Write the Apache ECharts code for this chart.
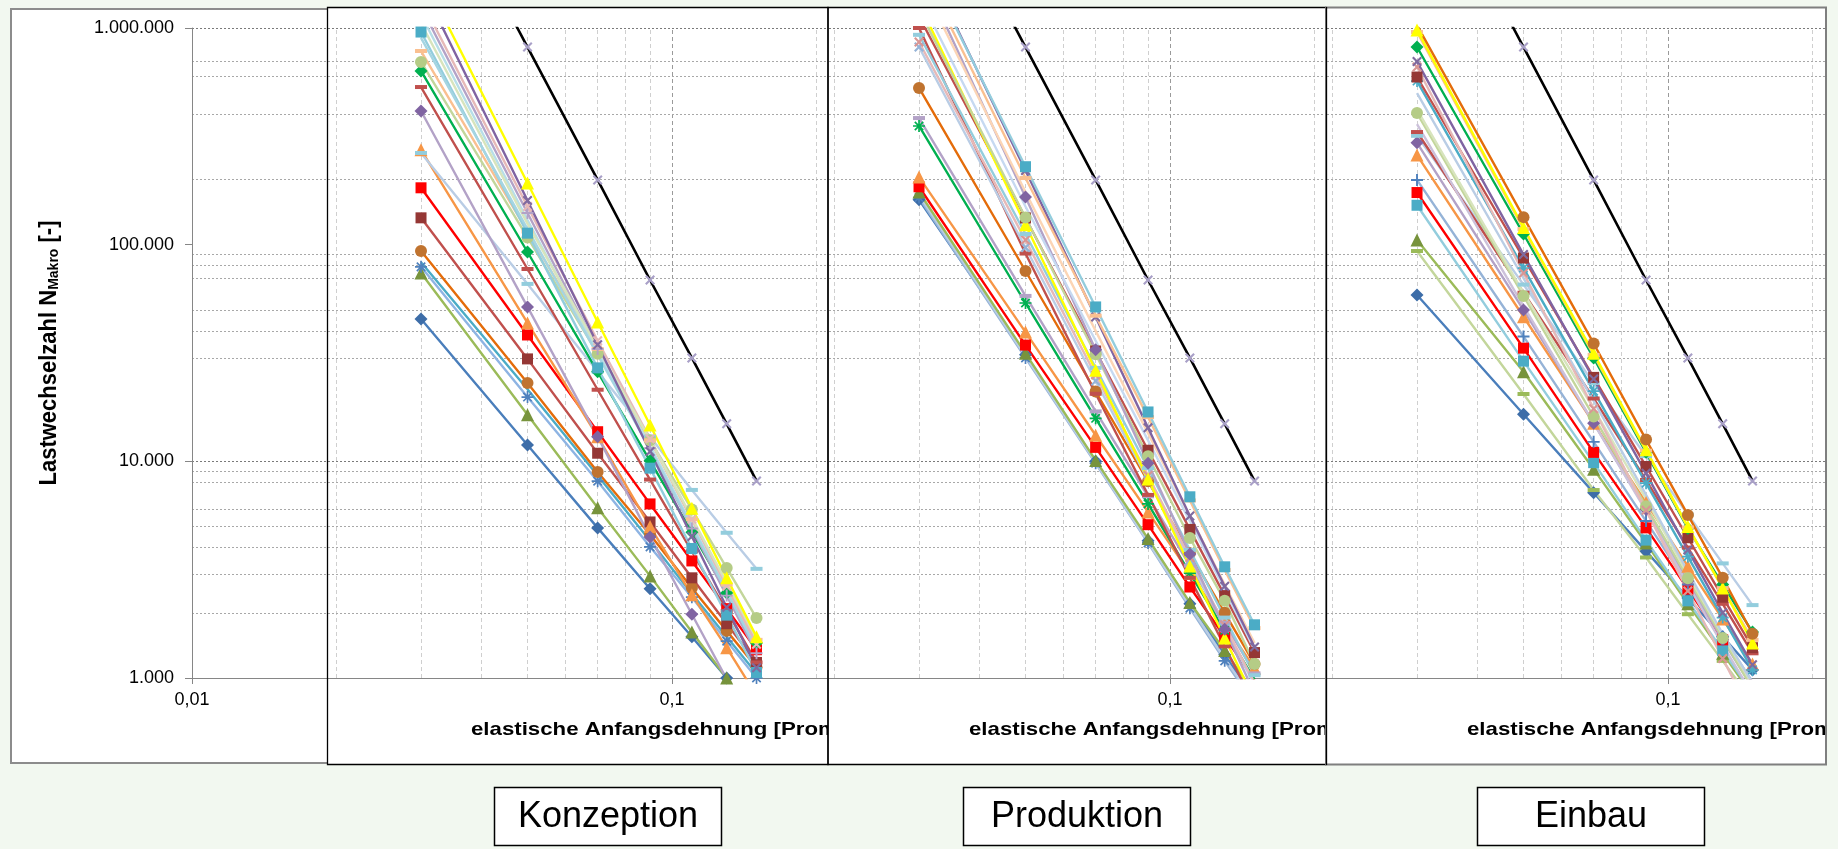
<!DOCTYPE html>
<html><head><meta charset="utf-8">
<script src="https://cdn.jsdelivr.net/npm/echarts@6/dist/echarts.min.js"></script>
<style>html,body{margin:0;padding:0;background:#F2F8F0;}#c{width:1838px;height:849px;}</style>
</head><body><div id="c"></div><script>
// ---------------- DATA ----------------
const strain = [0.03, 0.05, 0.07, 0.09, 0.11, 0.13, 0.15];
const referenceLine = [6900000, 817000, 199000, 68700, 30000, 14900, 8120];

const konzeption = [
  [45400, 11900, 4930, 2580, 1550, 1000, 690],
  [74000, 16400, 6100, 2960, 1630, 1000, 680],
  [79000, 19800, 8100, 4030, 2360, 1480, 1000],
  [83000, 21500, 8600, 4300, 2450, 1550, 1050],
  [93500, 23000, 8930, 4600, 2600, 1650, 1120],
  [133000, 29700, 10900, 5250, 2900, 1780, 1180],
  [183000, 38300, 13700, 6360, 3470, 2090, 1350],
  [274000, 43500, 13000, 5000, 2420, 1380, 830],
  [265000, 65900, 26000, 13000, 7380, 4680, 3190],
  [414000, 51600, 13000, 4480, 1970, 990, 550],
  [534000, 77200, 21400, 8240, 3840, 2040, 1180],
  [634000, 92500, 25900, 10050, 4710, 2470, 1450],
  [697000, 108000, 31400, 12500, 6000, 3220, 1890],
  [783000, 115000, 33000, 12500, 5400, 2700, 1500],
  [958000, 113000, 27000, 9300, 3960, 1950, 1060],
  [1250000, 140000, 33000, 11500, 4900, 2400, 1300],
  [1150000, 130000, 32000, 11800, 5100, 2550, 1400],
  [1350000, 150000, 36000, 12700, 5400, 2650, 1430],
  [1050000, 125000, 33500, 12600, 5500, 2750, 1520],
  [900000, 118000, 31000, 11400, 5000, 2500, 1350],
  [1600000, 160000, 34500, 11100, 4500, 2120, 1115],
  [1800000, 192700, 44000, 14700, 6070, 2900, 1550]
];
const produktion = [
  [161000, 31000, 10000, 4300, 2200, 1280, 800],
  [165000, 30000, 9800, 4200, 2100, 1200, 760],
  [170000, 30500, 9900, 4250, 2150, 1230, 780],
  [175000, 31500, 10100, 4400, 2230, 1340, 850],
  [185000, 34400, 11600, 5100, 2630, 1550, 980],
  [205000, 39500, 13200, 5840, 3040, 1770, 1110],
  [353000, 53800, 15800, 6360, 3050, 1660, 985],
  [384000, 58000, 17000, 6900, 3300, 1800, 1050],
  [529000, 75600, 21000, 8090, 3770, 2000, 1160],
  [1000000, 91000, 20500, 7000, 2900, 1400, 750],
  [817000, 97000, 23500, 8200, 3500, 1700, 930],
  [862000, 105000, 25000, 8600, 3600, 1750, 950],
  [930000, 112000, 27000, 9300, 3900, 1900, 1030],
  [1130000, 132800, 32300, 11250, 4850, 2400, 1310],
  [1300000, 123600, 26300, 8290, 3290, 1530, 790],
  [1210000, 133500, 31200, 10550, 4430, 2270, 1160],
  [1900000, 166000, 32700, 9800, 3740, 1680, 850],
  [1400000, 150000, 36000, 12500, 5300, 2550, 1350],
  [1700000, 175000, 40000, 13500, 5600, 2700, 1450],
  [2300000, 220000, 46400, 14300, 5600, 2650, 1390],
  [2000000, 203000, 47000, 16000, 6600, 3150, 1700],
  [2200000, 229000, 51600, 16900, 6860, 3260, 1760]
];
const einbau = [
  [58600, 16500, 7170, 3850, 2340, 1550, 1090],
  [93500, 20450, 7370, 3600, 1970, 1200, 780],
  [105000, 25900, 9200, 4200, 2200, 1300, 830],
  [152000, 29000, 9860, 4330, 2270, 1340, 850],
  [174000, 33300, 11000, 4930, 2570, 1500, 950],
  [199000, 37700, 12300, 5300, 2700, 1550, 960],
  [259000, 46500, 15000, 6450, 3280, 1870, 1160],
  [295000, 50000, 15000, 6000, 2800, 1500, 900],
  [318000, 65400, 23000, 10570, 5680, 3380, 2170],
  [331000, 60000, 19500, 8200, 4000, 2200, 1300],
  [405000, 58000, 16100, 6200, 2890, 1530, 890],
  [360000, 52000, 15000, 5900, 2700, 1420, 840],
  [420000, 60000, 17500, 6700, 3000, 1580, 930],
  [500000, 70000, 19000, 7000, 3100, 1600, 950],
  [569000, 78000, 21100, 7930, 3630, 1900, 1090],
  [594000, 86800, 24400, 9470, 4440, 2360, 1380],
  [661000, 74000, 17500, 5950, 2520, 1230, 665],
  [700000, 90000, 24000, 8800, 3900, 2000, 1150],
  [817000, 112000, 30000, 11000, 4900, 2700, 1630],
  [958000, 118000, 31000, 11200, 4950, 2600, 1500],
  [980000, 120000, 31500, 11300, 5000, 2600, 1450],
  [1030000, 134000, 35000, 12600, 5660, 2900, 1600]
];
const panelNames = ['Konzeption', 'Produktion', 'Einbau'];
const yTitleMain = 'Lastwechselzahl N';
const yTitleSub = 'Makro';
const yTitleEnd = ' [-]';
const xTitle = 'elastische Anfangsdehnung [Promille]';
const baseXTicks = [0.01];
const panelXTicks = [0.1];
const hGridMajor = [1000000, 10000];
const hGridMinor = [700000, 600000, 400000, 200000, 90000, 80000, 70000, 50000, 40000, 30000, 9000, 8000, 6000, 5000, 4000, 3000, 2000];
const vGridMinor = [0.02, 0.03, 0.04, 0.05, 0.06, 0.07, 0.08, 0.09, 0.2];
const vGridMajor = [0.1];

// ---------------- STYLES ----------------
const konzeptionStyle = [
  ['#4A7EBB','#3D6DA8','diamond'],['#9BBB59','#77933C','triangle'],['#8EB4E3','#4F81BD','star'],
  ['#4BACC6','#4BACC6','none'],['#E46C0A','#C0732F','circle'],['#C0504D','#953735','rect'],
  ['#FF0000','#FF0000','rect'],['#F79646','#F79646','triangle'],['#B9CDE5','#93CDDD','dash'],
  ['#B3A2C7','#8064A2','diamond'],['#C0504D','#C0504D','dash'],['#00B050','#00B050','diamond'],
  ['#C3D69B','#B5CC86','circle'],['#FAC090','#FAC090','dash'],['#93CDDD','#4BACC6','rect'],
  ['#B3A2C7','#B3A2C7','plus'],['#B7DEE8','#B7DEE8','none'],['#E6B9B8','#E6B9B8','x'],
  ['#D7E4BD','#C3D69B','none'],['#A5D5E2','#93CDDD','none'],['#8064A2','#7F6A9F','x'],
  ['#FFFF00','#FFFF00','triangle']
];
const produktionStyle = [
  ['#4A7EBB','#3D6DA8','diamond'],['#95B3D7','#4F81BD','star'],['#B9CDE5','#B9CDE5','none'],
  ['#9BBB59','#77933C','triangle'],['#FF0000','#FF0000','rect'],['#F79646','#F79646','triangle'],
  ['#00B050','#00B050','star'],['#B3A2C7','#B3A2C7','dash'],['#E46C0A','#C0732F','circle'],
  ['#C0504D','#C0504D','dash'],['#B9CDE5','#95B3D7','x'],['#E6B9B8','#D99694','x'],
  ['#93CDDD','#93CDDD','dash'],['#C0504D','#953735','rect'],['#FFFF00','#FFFF00','triangle'],
  ['#C3D69B','#B5CC86','circle'],['#B3A2C7','#8064A2','diamond'],['#C6D9F1','#B9CDE5','none'],
  ['#FCD5B5','#FCD5B5','none'],['#8064A2','#7F6A9F','x'],['#FAC090','#FAC090','dash'],
  ['#93CDDD','#4BACC6','rect']
];
const einbauStyle = [
  ['#4A7EBB','#3D6DA8','diamond'],['#C3D69B','#9BBB59','dash'],['#9BBB59','#77933C','triangle'],
  ['#93CDDD','#4BACC6','rect'],['#FF0000','#FF0000','rect'],['#95B3D7','#4F81BD','plus'],
  ['#F79646','#F79646','triangle'],['#B3A2C7','#8064A2','diamond'],['#B9CDE5','#93CDDD','dash'],
  ['#C0504D','#C0504D','dash'],['#C3D69B','#B5CC86','circle'],['#CCC1DA','#B3A2C7','none'],
  ['#D7E4BD','#D7E4BD','none'],['#B9CDE5','#95B3D7','none'],['#4BACC6','#4BACC6','star'],
  ['#C0504D','#953735','rect'],['#E6B9B8','#D99694','x'],['#8064A2','#7F6A9F','x'],
  ['#00B050','#00B050','diamond'],['#FAC090','#FAC090','dash'],['#FFFF00','#FFFF00','triangle'],
  ['#E46C0A','#C0732F','circle']
];
const referenceStyle = ['#000000', '#A9A0C8', 'x'];

const SYM = {
  diamond: 'diamond', rect: 'rect', triangle: 'triangle', circle: 'circle', none: 'none',
  x: 'path://M1.5,0L5,3.5L8.5,0L10,1.5L6.5,5L10,8.5L8.5,10L5,6.5L1.5,10L0,8.5L3.5,5L0,1.5Z',
  plus: 'path://M4.2,0H5.8V4.2H10V5.8H5.8V10H4.2V5.8H0V4.2H4.2Z',
  star: 'path://M4.3,0H5.7V3.3L8,1L9,2L6.7,4.3H10V5.7H6.7L9,8L8,9L5.7,6.7V10H4.3V6.7L2,9L1,8L3.3,5.7H0V4.3H3.3L1,2L2,1L4.3,3.3Z',
  dash: 'path://M0,0H10V3H0Z'
};
const SYMSIZE = {diamond: 13, rect: 11, triangle: 13, circle: 12, x: 10, plus: 12, star: 12, dash: [12, 4], none: 1};

// ---------------- LAYOUT ----------------
const BG = '#F2F8F0';
const FONT = '"Liberation Sans", Arial, Helvetica, sans-serif';
const DEC = 480, X0 = 192, TOP = 28, H = 650;
const offsets = [0, 498, 996];
const edges = [[327, 828], [828, 1326], [1326, 1826]];
const boxLefts = [494, 963, 1477];

function fmtThousands(v) { return String(Math.round(v)).replace(/\B(?=(\d{3})+(?!\d))/g, '.'); }
function fmtDec(v) { return String(+(+v).toPrecision(6)).replace('.', ','); }

const grids = [{left: X0, top: TOP, width: 2 * DEC, height: H}];
const xAxes = [{
  gridIndex: 0, type: 'log', logBase: 10, min: 0.01, max: 1, z: 1,
  axisLine: {show: true, onZero: false, lineStyle: {color: '#868686', width: 1}},
  axisTick: {show: true, customValues: baseXTicks, length: 6, lineStyle: {color: '#868686'}},
  axisLabel: {customValues: baseXTicks, formatter: fmtDec, fontSize: 18, color: '#000', margin: 13, fontFamily: FONT},
  splitLine: {show: false}
}];
const yAxes = [{
  gridIndex: 0, type: 'log', logBase: 10, min: 1000, max: 1000000, z: 1,
  axisLine: {show: true, lineStyle: {color: '#868686', width: 1}},
  axisTick: {show: true, length: 7, lineStyle: {color: '#868686'}},
  axisLabel: {formatter: fmtThousands, fontSize: 18, color: '#000', margin: 18, fontFamily: FONT},
  splitLine: {show: false}
}];

function gridLineSeries(gi, z, withV) {
  const d = [];
  if (withV) {
    vGridMinor.forEach(v => d.push({xAxis: v, lineStyle: {color: '#CFCFCF', type: [4, 3], width: 1}}));
    vGridMajor.forEach(v => d.push({xAxis: v, lineStyle: {color: '#9A9A9A', type: [4, 3], width: 1}}));
  }
  hGridMinor.forEach(v => d.push({yAxis: v, lineStyle: {color: '#A8A8A8', type: [2, 2], width: 1}}));
  hGridMajor.forEach(v => d.push({yAxis: v, lineStyle: {color: '#7A7A7A', type: [2, 2], width: 1}}));
  return {
    type: 'line', xAxisIndex: gi, yAxisIndex: gi, data: [], z: z, silent: true, animation: false,
    markLine: {z: z, silent: true, animation: false, symbol: ['none', 'none'], label: {show: false},
      emphasis: {disabled: true}, data: d}
  };
}

const series = [gridLineSeries(0, 1, false)];
const panelData = [konzeption, produktion, einbau];
const panelStyle = [konzeptionStyle, produktionStyle, einbauStyle];

const graphic = [
  {type: 'rect', shape: {x: 11, y: 9, width: 1815, height: 754}, style: {fill: '#FFFFFF', stroke: '#8C8C8C', lineWidth: 2}, z: 0, silent: true},
  {type: 'text', x: 49, y: 353, rotation: Math.PI / 2, scaleY: 1.1, z: 1, silent: true,
    style: {text: '{m|' + yTitleMain + '}{s|' + yTitleSub + '}{m|' + yTitleEnd + '}', align: 'center', verticalAlign: 'middle',
      rich: {m: {fontSize: 22, fontWeight: 'bold', fontFamily: FONT, fill: '#000'},
             s: {fontSize: 14, fontWeight: 'bold', fontFamily: FONT, fill: '#000', padding: [8, 0, 0, 0]}}}}
];

for (let k = 0; k < 3; k++) {
  const gi = k + 1, zb = 10 + 10 * k;
  const gl = edges[k][0] + 1, gr = edges[k][1] - 1;
  grids.push({left: gl, top: TOP, width: gr - gl, height: H});
  xAxes.push({
    gridIndex: gi, type: 'log', logBase: 10, z: zb + 2,
    min: Math.pow(10, (gl - X0 - offsets[k]) / DEC - 2),
    max: Math.pow(10, (gr - X0 - offsets[k]) / DEC - 2),
    axisLine: {show: true, onZero: false, lineStyle: {color: '#868686', width: 1}},
    axisTick: {show: true, customValues: panelXTicks, length: 6, lineStyle: {color: '#868686'}},
    axisLabel: {customValues: panelXTicks, formatter: fmtDec, fontSize: 18, color: '#000', margin: 13, fontFamily: FONT},
    splitLine: {show: false}
  });
  yAxes.push({
    gridIndex: gi, type: 'log', logBase: 10, min: 1000, max: 1000000, z: zb + 2,
    axisLine: {show: false}, axisTick: {show: false}, axisLabel: {show: false}, splitLine: {show: false}
  });
  graphic.push({type: 'rect', shape: {x: edges[k][0], y: 7, width: edges[k][1] - edges[k][0], height: 758},
    style: {fill: '#FFFFFF'}, z: zb, silent: true});
  graphic.push({type: 'text', x: 471 + offsets[k], y: 730, scaleX: 1.17, z: zb + 2, silent: true,
    style: {text: xTitle, fontSize: 19, fontWeight: 'bold', fontFamily: FONT, fill: '#000', align: 'left', verticalAlign: 'middle'}});
  series.push(gridLineSeries(gi, zb + 1, true));
  const vals = panelData[k], sty = panelStyle[k];
  vals.forEach((arr, j) => {
    const s = sty[j];
    series.push({
      type: 'line', xAxisIndex: gi, yAxisIndex: gi, z: zb + 3, clip: true, animation: false, silent: true,
      data: strain.map((e, i) => [e, arr[i]]),
      symbol: SYM[s[2]], symbolSize: SYMSIZE[s[2]], showSymbol: s[2] !== 'none',
      lineStyle: {color: s[0], width: 2.4}, itemStyle: {color: s[1]}, emphasis: {disabled: true}
    });
  });
  series.push({
    type: 'line', xAxisIndex: gi, yAxisIndex: gi, z: zb + 3, clip: true, animation: false, silent: true,
    data: strain.map((e, i) => [e, referenceLine[i]]),
    symbol: SYM[referenceStyle[2]], symbolSize: 10,
    lineStyle: {color: referenceStyle[0], width: 2.6}, itemStyle: {color: referenceStyle[1]}, emphasis: {disabled: true}
  });
}

graphic.push({type: 'rect', shape: {x: 1827, y: 0, width: 20, height: 849}, style: {fill: BG}, z: 50, silent: true});
graphic.push({type: 'rect', shape: {x: 327.5, y: 7.5, width: 500.5, height: 757}, style: {fill: 'none', stroke: '#000', lineWidth: 1.3}, z: 55, silent: true});
graphic.push({type: 'rect', shape: {x: 828, y: 7.5, width: 498, height: 757}, style: {fill: 'none', stroke: '#000', lineWidth: 1.3}, z: 55, silent: true});
graphic.push({type: 'rect', shape: {x: 1326, y: 7.5, width: 500, height: 757}, style: {fill: 'none', stroke: '#7F7F7F', lineWidth: 2}, z: 55, silent: true});
graphic.push({type: 'line', shape: {x1: 1326.5, y1: 7, x2: 1326.5, y2: 765}, style: {stroke: '#000', lineWidth: 1.3}, z: 56, silent: true});
panelNames.forEach((name, k) => {
  graphic.push({type: 'rect', shape: {x: boxLefts[k] + 0.5, y: 787.5, width: 227, height: 58},
    style: {fill: '#FFFFFF', stroke: '#000', lineWidth: 1.5}, z: 60, silent: true});
  graphic.push({type: 'text', x: boxLefts[k] + 114, y: 817, z: 61, silent: true,
    style: {text: name, fontSize: 36, fontFamily: FONT, fill: '#000', align: 'center', verticalAlign: 'middle'}});
});

const chart = echarts.init(document.getElementById('c'), null, {renderer: 'canvas', width: 1838, height: 849});
chart.setOption({
  backgroundColor: BG,
  animation: false,
  grid: grids,
  xAxis: xAxes,
  yAxis: yAxes,
  series: series,
  graphic: graphic
});
</script></body></html>
